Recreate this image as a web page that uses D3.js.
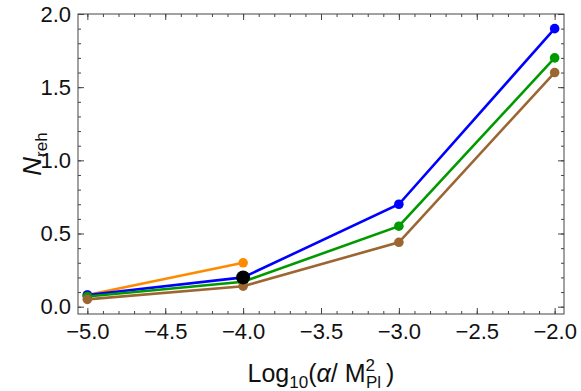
<!DOCTYPE html>
<html>
<head>
<meta charset="utf-8">
<script src="https://cdn.jsdelivr.net/npm/d3@7"></script>
<style>
  body { margin: 0; background: #fff; }
  svg { display: block; font-family: 'Liberation Sans', Arial, sans-serif; }
</style>
</head>
<body>
<div id="chart"></div>
<script>
const xValues = [-5, -4, -3, -2];
const orangeValues = [0.08, 0.30];
const blueValues = [0.08, 0.20, 0.70, 1.90];
const greenValues = [0.07, 0.17, 0.55, 1.70];
const brownValues = [0.05, 0.14, 0.44, 1.60];
const blackPoint = [-4, 0.20];
const xTicks = [-5.0, -4.5, -4.0, -3.5, -3.0, -2.5, -2.0];
const yTicks = [0.0, 0.5, 1.0, 1.5, 2.0];

const SERIES = [
    { name: 'orange', color: '#ff8a00', values: orangeValues },
    { name: 'blue', color: '#0000ff', values: blueValues },
    { name: 'green', color: '#009a00', values: greenValues },
    { name: 'brown', color: '#9c6633', values: brownValues }
];

function createChart() {
    const width = 581;
    const height = 391;
    const margin = { top: 14, right: 17, bottom: 77, left: 78 };
    const innerW = width - margin.left - margin.right;
    const innerH = height - margin.top - margin.bottom;

    const svg = d3.select('#chart')
        .append('svg')
        .attr('width', width)
        .attr('height', height);

    const g = svg.append('g')
        .attr('transform', `translate(${margin.left},${margin.top})`);

    const xScale = d3.scaleLinear()
        .domain([-5.06, -1.94])
        .range([0, innerW]);

    const yScale = d3.scaleLinear()
        .domain([-0.05, 2.0])
        .range([innerH, 0]);

    const frameColor = '#444';
    const minorX = d3.range(-5.0, -1.95, 0.1).map(v => +v.toFixed(1));
    const minorY = d3.range(0, 2.01, 0.1).map(v => +v.toFixed(1));

    // frame
    g.append('rect')
        .attr('width', innerW)
        .attr('height', innerH)
        .attr('fill', 'none')
        .attr('stroke', frameColor)
        .attr('stroke-width', 1);

    const fmt = d3.format('.1f');

    // ticks on all four sides, labels only bottom / left
    const axes = [
        [d3.axisBottom(xScale).tickValues(minorX).tickSize(-3).tickFormat(''), `translate(0,${innerH})`],
        [d3.axisBottom(xScale).tickValues(xTicks).tickSize(-6).tickPadding(9).tickFormat(fmt), `translate(0,${innerH})`],
        [d3.axisTop(xScale).tickValues(minorX).tickSize(-3).tickFormat(''), 'translate(0,0)'],
        [d3.axisTop(xScale).tickValues(xTicks).tickSize(-6).tickFormat(''), 'translate(0,0)'],
        [d3.axisLeft(yScale).tickValues(minorY).tickSize(-3).tickFormat(''), 'translate(0,0)'],
        [d3.axisLeft(yScale).tickValues(yTicks).tickSize(-6).tickPadding(7).tickFormat(fmt), 'translate(0,0)'],
        [d3.axisRight(yScale).tickValues(minorY).tickSize(-3).tickFormat(''), `translate(${innerW},0)`],
        [d3.axisRight(yScale).tickValues(yTicks).tickSize(-6).tickFormat(''), `translate(${innerW},0)`]
    ];

    axes.forEach(([axis, tr]) => {
        const a = g.append('g')
            .attr('transform', tr)
            .call(axis);
        a.select('.domain').remove();
        a.selectAll('line').attr('stroke', frameColor);
        a.selectAll('text')
            .attr('fill', '#111')
            .style('font-size', '22px');
    });

    // lines
    const line = d3.line()
        .x((d, i) => xScale(xValues[i]))
        .y(d => yScale(d));

    SERIES.forEach(s => {
        g.append('path')
            .datum(s.values)
            .attr('fill', 'none')
            .attr('stroke', s.color)
            .attr('stroke-width', 2.6)
            .attr('d', line);
    });

    SERIES.forEach(s => {
        g.selectAll(`.pt-${s.name}`)
            .data(s.values)
            .enter()
            .append('circle')
            .attr('class', `pt-${s.name}`)
            .attr('cx', (d, i) => xScale(xValues[i]))
            .attr('cy', d => yScale(d))
            .attr('r', 4.8)
            .attr('fill', s.color);
    });

    g.append('circle')
        .attr('cx', xScale(blackPoint[0]))
        .attr('cy', yScale(blackPoint[1]))
        .attr('r', 7)
        .attr('fill', '#000');

    // y label
    const yLab = svg.append('text')
        .attr('transform', `translate(41,${margin.top + innerH / 2 - 10}) rotate(-90)`)
        .attr('text-anchor', 'middle')
        .attr('fill', '#111')
        .style('font-size', '26px');
    yLab.append('tspan').style('font-style', 'italic').text('N');
    yLab.append('tspan').attr('dy', 6).style('font-size', '17px').text('reh');

    // x label
    const xLab = svg.append('text')
        .attr('x', 321)
        .attr('y', 382)
        .attr('text-anchor', 'middle')
        .attr('fill', '#111')
        .style('font-size', '25px');
    xLab.append('tspan').text('Log');
    xLab.append('tspan').attr('dy', 6).style('font-size', '17px').text('10');
    xLab.append('tspan').attr('dy', -6).text('(');
    xLab.append('tspan').style('font-style', 'italic').text('α');
    xLab.append('tspan').text('/ M');
    xLab.append('tspan').attr('dy', -11).style('font-size', '17px').text('2');
    xLab.append('tspan').attr('dx', -9).attr('dy', 17).style('font-size', '17px').text('Pl');
    xLab.append('tspan').attr('dy', -6).text('\u2009)');
}

createChart();
</script>
</body>
</html>
